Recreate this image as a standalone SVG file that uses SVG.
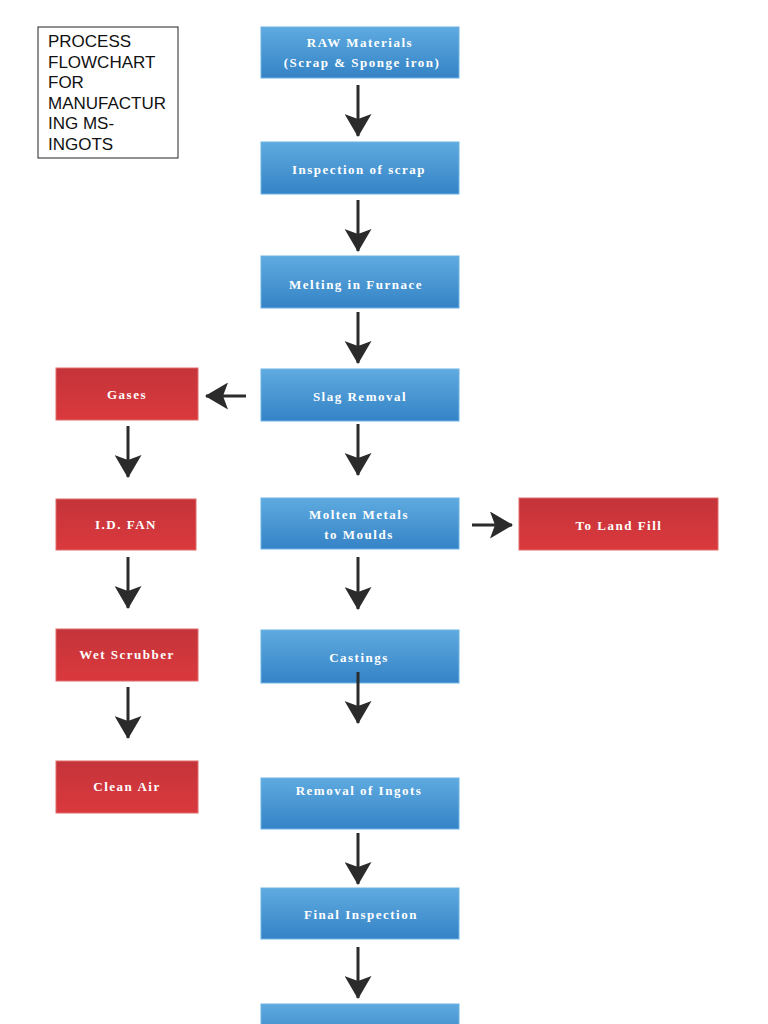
<svg xmlns="http://www.w3.org/2000/svg" width="768" height="1024" viewBox="0 0 768 1024">
<defs>
<linearGradient id="gb" x1="0" y1="0" x2="0" y2="1"><stop offset="0" stop-color="#5eaae0"/><stop offset="1" stop-color="#3583c6"/></linearGradient>
<linearGradient id="gr" x1="0" y1="0" x2="0" y2="1"><stop offset="0" stop-color="#c4343a"/><stop offset="1" stop-color="#da393d"/></linearGradient>
<marker id="ah" viewBox="0 0 23 27" refX="22" refY="13.5" markerWidth="23" markerHeight="27" orient="auto" markerUnits="userSpaceOnUse"><path d="M0,0 L23,13.5 L0,27 L5,13.5 z" fill="#2b2b2b"/></marker>
<style>
.b{fill:url(#gb);stroke:#6fb3e6;stroke-width:1}
.r{fill:url(#gr);stroke:#e06a6a;stroke-width:1}
.t{font-family:"Liberation Serif",serif;font-weight:bold;font-size:13px;fill:#fff;text-anchor:middle;letter-spacing:1.5px}
.c line{stroke:#2b2b2b;stroke-width:3;marker-end:url(#ah)}
.h{font-family:"Liberation Sans",sans-serif;font-size:17px;fill:#111}
</style>
</defs>
<g id="title"><rect x="38" y="27" width="140" height="131" fill="#fff" stroke="#222" stroke-width="1"/>
<text class="h"><tspan x="48" y="47">PROCESS</tspan><tspan x="48" y="67.5">FLOWCHART</tspan><tspan x="48" y="88">FOR</tspan><tspan x="48" y="108.5">MANUFACTUR</tspan><tspan x="48" y="129">ING MS-</tspan><tspan x="48" y="149.5">INGOTS</tspan></text></g>
<g id="raw"><rect class="b" x="261" y="27" width="198" height="51"/><text class="t" x="360" y="47">RAW Materials</text><text class="t" x="362" y="67">(Scrap &amp; Sponge iron)</text></g>
<g id="inspect"><rect class="b" x="261" y="142" width="198" height="52"/><text class="t" x="359" y="174">Inspection of scrap</text></g>
<g id="melt"><rect class="b" x="261" y="256" width="198" height="52"/><text class="t" x="356" y="289">Melting in Furnace</text></g>
<g id="slag"><rect class="b" x="261" y="369" width="198" height="52"/><text class="t" x="360" y="401">Slag Removal</text></g>
<g id="molten"><rect class="b" x="261" y="498" width="198" height="51"/><text class="t" x="359" y="519">Molten Metals</text><text class="t" x="359" y="539">to Moulds</text></g>
<g id="cast"><rect class="b" x="261" y="630" width="198" height="53"/><text class="t" x="359" y="662">Castings</text></g>
<g id="removal"><rect class="b" x="261" y="778" width="198" height="51"/><text class="t" x="359" y="795">Removal of Ingots</text></g>
<g id="final"><rect class="b" x="261" y="888" width="198" height="51"/><text class="t" x="361" y="919">Final Inspection</text></g>
<g id="last"><rect class="b" x="261" y="1004" width="198" height="40"/></g>
<g id="gases"><rect class="r" x="56" y="368" width="142" height="52"/><text class="t" x="127" y="399">Gases</text></g>
<g id="idfan"><rect class="r" x="56" y="499" width="140" height="51"/><text class="t" x="126" y="529">I.D. FAN</text></g>
<g id="scrubber"><rect class="r" x="56" y="629" width="142" height="52"/><text class="t" x="127" y="659">Wet Scrubber</text></g>
<g id="clean"><rect class="r" x="56" y="761" width="142" height="52"/><text class="t" x="127" y="791">Clean Air</text></g>
<g id="landfill"><rect class="r" x="519" y="498" width="199" height="52"/><text class="t" x="619" y="530">To Land Fill</text></g>
<g id="connectors" class="c">
<line x1="358" y1="85" x2="358" y2="136"/>
<line x1="358" y1="200" x2="358" y2="251"/>
<line x1="358" y1="312" x2="358" y2="363"/>
<line x1="358" y1="424" x2="358" y2="475"/>
<line x1="358" y1="557" x2="358" y2="609"/>
<line x1="358" y1="672" x2="358" y2="723"/>
<line x1="358" y1="833" x2="358" y2="884"/>
<line x1="358" y1="947" x2="358" y2="998"/>
<line x1="128" y1="426" x2="128" y2="477"/>
<line x1="128" y1="557" x2="128" y2="608"/>
<line x1="128" y1="687" x2="128" y2="738"/>
<line x1="246" y1="396" x2="206" y2="396"/>
<line x1="472" y1="525" x2="512" y2="525"/>
</g>
</svg>
